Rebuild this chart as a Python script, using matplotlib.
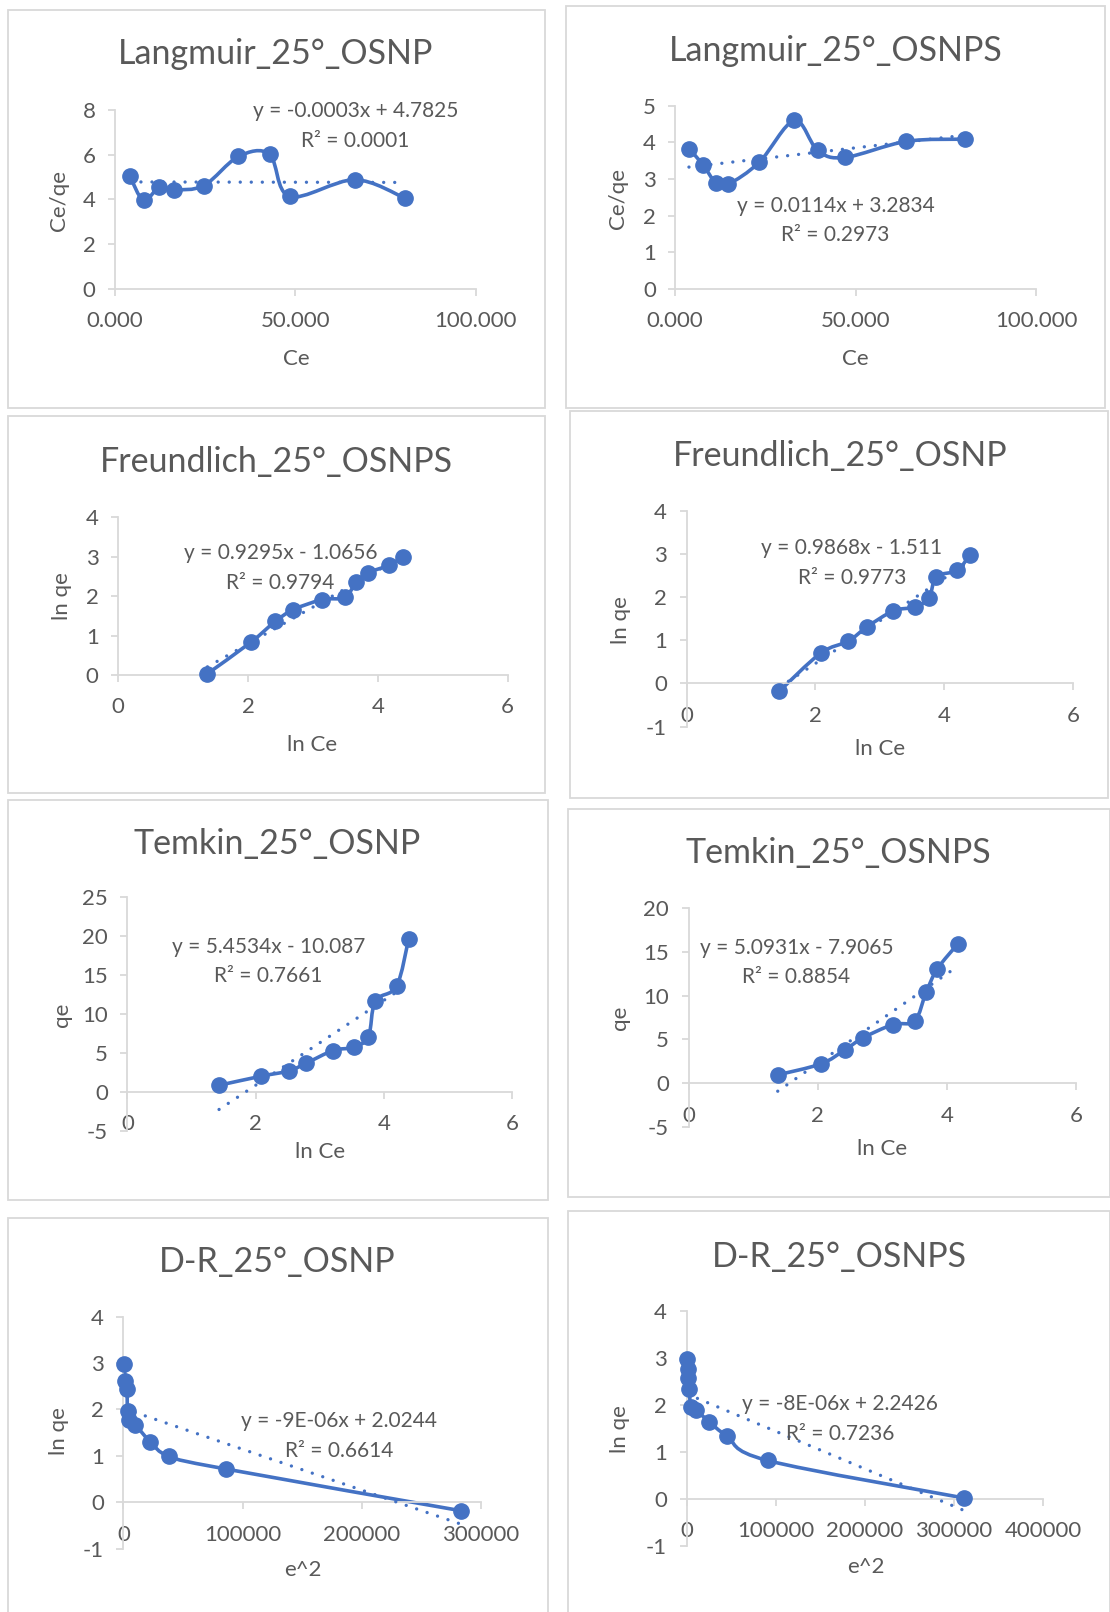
"""Excel-style isotherm grid (Langmuir / Freundlich / Temkin / D-R at 25 deg)."""

import matplotlib

matplotlib.use("Agg")
import matplotlib.pyplot as plt
from matplotlib.patches import PathPatch, Rectangle
from matplotlib.path import Path
import numpy as np

W, H = 1110, 1612
S = W / 1080  # layout was measured on the 1080-wide preview

BLUE = "#4472C4"
GREY = "#595959"
EDGE = "#D9D9D9"
FONT = "Lato"

# ---- data ----
lang_osnp_ce = [4.1, 7.9, 12.3, 16.3, 24.6, 34.2, 42.8, 48.4, 66.4, 80.3]
lang_osnp_ceqe = [5.03, 3.96, 4.55, 4.43, 4.62, 5.92, 6.02, 4.13, 4.88, 4.06]
lang_osnps_ce = [3.8, 7.7, 11.3, 14.7, 23.3, 33.0, 39.5, 47.0, 64.1, 80.4]
lang_osnps_ceqe = [3.83, 3.39, 2.89, 2.86, 3.46, 4.60, 3.78, 3.59, 4.03, 4.09]
fr_osnps_lnce = [1.375, 2.04, 2.42, 2.70, 3.14, 3.49, 3.67, 3.85, 4.17, 4.39]
fr_osnps_lnqe = [0.04, 0.83, 1.36, 1.66, 1.91, 1.97, 2.36, 2.59, 2.78, 3.00]
fr_osnp_lnce = [1.44, 2.08, 2.51, 2.80, 3.21, 3.54, 3.76, 3.88, 4.20, 4.40]
fr_osnp_lnqe = [-0.18, 0.70, 0.98, 1.31, 1.68, 1.77, 1.97, 2.47, 2.62, 2.98]
tk_osnp_lnce = [1.43, 2.08, 2.52, 2.79, 3.21, 3.53, 3.76, 3.87, 4.20, 4.39]
tk_osnp_qe = [0.82, 1.98, 2.67, 3.66, 5.29, 5.72, 7.06, 11.66, 13.55, 19.66]
tk_osnps_lnce = [1.38, 2.05, 2.42, 2.70, 3.16, 3.50, 3.68, 3.85, 4.17]
tk_osnps_qe = [0.98, 2.23, 3.82, 5.18, 6.69, 7.11, 10.40, 13.01, 15.88]
dr_osnp_e2 = [900, 1500, 3000, 3500, 5000, 10000, 22500, 38500, 85800, 283400]
dr_osnp_lnqe = [2.99, 2.61, 2.45, 1.97, 1.77, 1.67, 1.31, 0.99, 0.72, -0.18]
dr_osnps_e2 = [800, 1200, 2000, 3200, 4700, 11000, 25700, 45400, 90800, 311200]
dr_osnps_lnqe = [2.98, 2.78, 2.57, 2.35, 1.97, 1.89, 1.64, 1.34, 0.82, 0.02]

titles = [
    "Langmuir_25°_OSNP", "Langmuir_25°_OSNPS",
    "Freundlich_25°_OSNPS", "Freundlich_25°_OSNP",
    "Temkin_25°_OSNP", "Temkin_25°_OSNPS",
    "D-R_25°_OSNP", "D-R_25°_OSNPS",
]
xlabels = ["Ce", "Ce", "ln Ce", "ln Ce", "ln Ce", "ln Ce", "e^2", "e^2"]
ylabels = ["Ce/qe", "Ce/qe", "ln qe", "ln qe", "qe", "qe", "ln qe", "ln qe"]
equations = [
    "y = -0.0003x + 4.7825", "y = 0.0114x + 3.2834",
    "y = 0.9295x - 1.0656", "y = 0.9868x - 1.511",
    "y = 5.4534x - 10.087", "y = 5.0931x - 7.9065",
    "y = -9E-06x + 2.0244", "y = -8E-06x + 2.2426",
]
r2_labels = ["R² = 0.0001", "R² = 0.2973", "R² = 0.9794", "R² = 0.9773",
             "R² = 0.7661", "R² = 0.8854", "R² = 0.6614", "R² = 0.7236"]
# trendline slope / intercept (D-R OSNP slope)
slopes = [-0.0003, 0.0114, 0.9295, 0.9868, 5.4534, 5.0931, -8.8e-6, -8.0e-6]
intercepts = [4.7825, 3.2834, -1.0656, -1.511, -10.087, -7.9065, 2.0244, 2.2426]

series = [
    (lang_osnp_ce, lang_osnp_ceqe), (lang_osnps_ce, lang_osnps_ceqe),
    (fr_osnps_lnce, fr_osnps_lnqe), (fr_osnp_lnce, fr_osnp_lnqe),
    (tk_osnp_lnce, tk_osnp_qe), (tk_osnps_lnce, tk_osnps_qe),
    (dr_osnp_e2, dr_osnp_lnqe), (dr_osnps_e2, dr_osnps_lnqe),
]

# ---- layout (pixels on the 1080 preview) ----
boxes = [(8, 10, 530, 397), (551, 6, 1075, 397), (8, 405, 530, 772), (555, 400, 1078, 776),
         (8, 778, 533, 1168), (553, 787, 1080, 1165), (8, 1185, 533, 1575), (553, 1178, 1080, 1575)]
plot_areas = [(112, 107, 463, 281), (657, 103, 1008, 281), (115, 503, 494, 657), (668, 497, 1044, 707),
              (124, 873, 498, 1100), (670, 883, 1047, 1097), (120, 1281, 468, 1507), (668, 1276, 1015, 1504)]
xlims = [(0, 100), (0, 100), (0, 6), (0, 6), (0, 6), (0, 6), (0, 300000), (0, 400000)]
ylims = [(0, 8), (0, 5), (0, 4), (-1, 4), (-5, 25), (-5, 20), (-1, 4), (-1, 4)]
xsteps = [50, 50, 2, 2, 2, 2, 100000, 100000]
ysteps = [2, 1, 1, 1, 5, 5, 1, 1]
title_pos = [(268, 53), (813, 50), (269, 450), (817, 444), (270, 821), (816, 830), (270, 1228), (817, 1223)]
eq_pos = [(346, 108), (813, 200), (273, 538), (829, 533), (261, 921), (775, 922), (330, 1383), (817, 1366)]
ylabel_pos = [(57, 195), (601, 193), (60, 580), (604, 603), (60, 987), (603, 990), (57, 1392), (603, 1390)]
xlabel_pos = [(288, 349), (832, 349), (304, 725), (856, 729), (311, 1121), (858, 1118), (295, 1528), (842, 1525)]


def fx(x):
    return x * S / W


def fy(y):
    return 1 - y * S / H


def smooth_path(x, y):
    """Excel-like smoothed line: Catmull-Rom segments as cubic Beziers."""
    pts = np.column_stack([x, y]).astype(float)
    n = len(pts)
    verts = [pts[0]]
    codes = [Path.MOVETO]
    for i in range(n - 1):
        p0 = pts[max(i - 1, 0)]
        p1, p2 = pts[i], pts[i + 1]
        p3 = pts[min(i + 2, n - 1)]
        verts += [p1 + (p2 - p0) / 6, p2 - (p3 - p1) / 6, p2]
        codes += [Path.CURVE4] * 3
    return Path(verts, codes)


fig = plt.figure(figsize=(W / 100, H / 100), dpi=100)
plt.rcParams["font.family"] = [FONT, "DejaVu Sans"]

for i in range(8):
    bx0, by0, bx1, by1 = boxes[i]
    fig.add_artist(Rectangle((fx(bx0), fy(by1)), fx(bx1) - fx(bx0), fy(by0) - fy(by1),
                             transform=fig.transFigure, fill=False, edgecolor=EDGE, linewidth=1.3))
    l, t, r, b = plot_areas[i]
    ax = fig.add_axes([fx(l), fy(b), fx(r) - fx(l), fy(t) - fy(b)])
    ax.patch.set_visible(False)
    x, y = series[i]
    ax.set_xlim(*xlims[i])
    ax.set_ylim(*ylims[i])
    ax.set_xticks(np.arange(xlims[i][0], xlims[i][1] + 1e-9, xsteps[i]))
    ax.set_yticks(np.arange(ylims[i][0], ylims[i][1] + 1e-9, ysteps[i]))
    if xlims[i][1] == 100:
        ax.set_xticklabels([f"{v:.3f}" for v in ax.get_xticks()])
    else:
        ax.set_xticklabels([f"{v:g}" if v < 1e5 else f"{int(v)}" for v in ax.get_xticks()])
    ax.set_yticklabels([f"{int(v)}" for v in ax.get_yticks()])
    for side in ("top", "right"):
        ax.spines[side].set_visible(False)
    ax.spines["bottom"].set_position(("data", 0))
    for side in ("left", "bottom"):
        ax.spines[side].set_color(EDGE)
        ax.spines[side].set_linewidth(1.3)
    ax.tick_params(direction="out", length=5, width=1.3, color=EDGE, labelcolor=GREY, labelsize=16)
    ax.tick_params(axis="x", pad=11)
    ax.tick_params(axis="y", pad=9)

    ax.add_patch(PathPatch(smooth_path(x, y), facecolor="none", edgecolor=BLUE, linewidth=2.6,
                           capstyle="round", joinstyle="round", zorder=2))
    xt = np.array([min(x), max(x)])
    ax.plot(xt, slopes[i] * xt + intercepts[i], color=BLUE, linewidth=2.4,
            linestyle=(0, (0.01, 3.3)), dash_capstyle="round", zorder=3)
    ax.plot(x, y, "o", color=BLUE, markersize=11, zorder=4, clip_on=False)

    tx, ty = title_pos[i]
    fig.text(fx(tx), fy(ty), titles[i], ha="center", va="center", fontsize=24.5, color=GREY)
    ex, ey = eq_pos[i]
    fig.text(fx(ex), fy(ey), equations[i], ha="center", va="center", fontsize=15, color=GREY)
    fig.text(fx(ex), fy(ey + 29), r2_labels[i], ha="center", va="center", fontsize=15, color=GREY)
    lx, ly = ylabel_pos[i]
    fig.text(fx(lx), fy(ly), ylabels[i], ha="center", va="center", rotation=90, fontsize=16, color=GREY)
    lx, ly = xlabel_pos[i]
    fig.text(fx(lx), fy(ly), xlabels[i], ha="center", va="center", fontsize=16, color=GREY)

fig.savefig("out.png", dpi=100, facecolor="white")
